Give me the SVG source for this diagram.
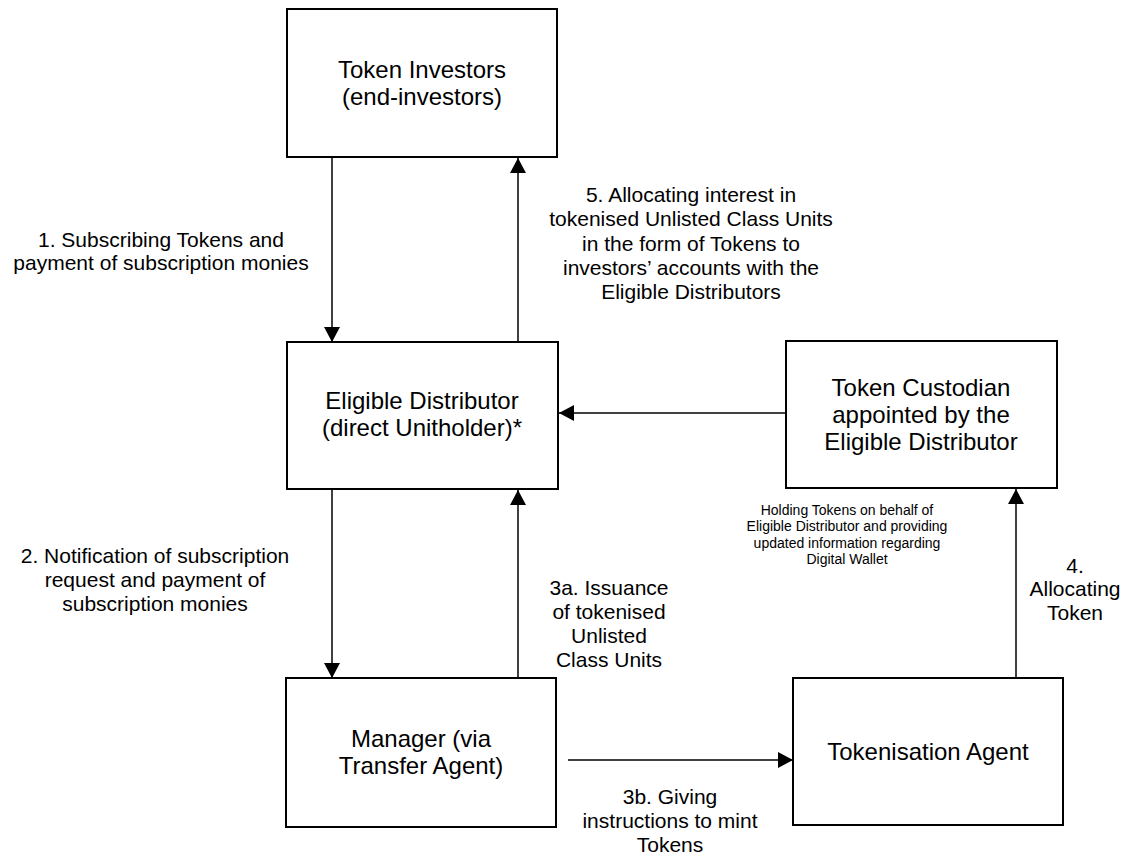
<svg xmlns="http://www.w3.org/2000/svg" width="1131" height="857" viewBox="0 0 1131 857">
  <style>
    .box { fill: #ffffff; stroke: #000000; stroke-width: 2; }
    .node-text { font-family: "Liberation Sans", Arial, sans-serif; font-size: 24px; fill: #000000; text-anchor: middle; }
    .label { font-family: "Liberation Sans", Arial, sans-serif; font-size: 21px; fill: #000000; text-anchor: middle; }
    .note { font-family: "Liberation Sans", Arial, sans-serif; font-size: 14px; fill: #000000; text-anchor: middle; }
    .edge { fill: none; stroke: #000000; stroke-width: 1.5; marker-end: url(#arrow); }
  </style>
  <defs>
    <marker id="arrow" markerUnits="userSpaceOnUse" markerWidth="16" markerHeight="16" refX="15" refY="8" orient="auto">
      <path d="M0,0 L15,8 L0,16 Z" fill="#000000"/>
    </marker>
  </defs>
  <rect width="1131" height="857" fill="#ffffff"/>

  <!-- Connectors -->
  <g id="connectors">
    <line class="edge" x1="332" y1="158" x2="332" y2="342"/>
    <line class="edge" x1="518" y1="342" x2="518" y2="158"/>
    <line class="edge" x1="786" y1="413" x2="559" y2="413"/>
    <line class="edge" x1="332" y1="489" x2="332" y2="678"/>
    <line class="edge" x1="518" y1="678" x2="518" y2="490"/>
    <line class="edge" x1="568" y1="760" x2="793" y2="760"/>
    <line class="edge" x1="1016" y1="678" x2="1016" y2="489"/>
  </g>

  <!-- Nodes -->
  <g id="token-investors">
    <rect class="box" x="287" y="9" width="270" height="148"/>
    <text class="node-text" x="422" y="78">Token Investors</text>
    <text class="node-text" x="422" y="105">(end-investors)</text>
  </g>
  <g id="eligible-distributor">
    <rect class="box" x="287" y="342" width="271" height="147"/>
    <text class="node-text" x="422" y="409">Eligible Distributor</text>
    <text class="node-text" x="422" y="436">(direct Unitholder)*</text>
  </g>
  <g id="token-custodian">
    <rect class="box" x="786" y="341" width="271" height="147"/>
    <text class="node-text" x="921" y="396">Token Custodian</text>
    <text class="node-text" x="921" y="423">appointed by the</text>
    <text class="node-text" x="921" y="450">Eligible Distributor</text>
  </g>
  <g id="manager">
    <rect class="box" x="286" y="678" width="270" height="149"/>
    <text class="node-text" x="421" y="747">Manager (via</text>
    <text class="node-text" x="421" y="774">Transfer Agent)</text>
  </g>
  <g id="tokenisation-agent">
    <rect class="box" x="793" y="678" width="270" height="147"/>
    <text class="node-text" x="928" y="760">Tokenisation Agent</text>
  </g>

  <!-- Connector labels -->
  <g id="labels">
    <text class="label" x="161" y="247">1. Subscribing Tokens and</text>
    <text class="label" x="161" y="270">payment of subscription monies</text>

    <text class="label" x="691" y="202">5. Allocating interest in</text>
    <text class="label" x="691" y="226">tokenised Unlisted Class Units</text>
    <text class="label" x="691" y="251">in the form of Tokens to</text>
    <text class="label" x="691" y="275">investors’ accounts with the</text>
    <text class="label" x="691" y="299">Eligible Distributors</text>

    <text class="label" x="155" y="563">2. Notification of subscription</text>
    <text class="label" x="155" y="587">request and payment of</text>
    <text class="label" x="155" y="611">subscription monies</text>

    <text class="label" x="609" y="595">3a. Issuance</text>
    <text class="label" x="609" y="619">of tokenised</text>
    <text class="label" x="609" y="643">Unlisted</text>
    <text class="label" x="609" y="667">Class Units</text>

    <text class="label" x="670" y="804">3b. Giving</text>
    <text class="label" x="670" y="828">instructions to mint</text>
    <text class="label" x="670" y="852">Tokens</text>

    <text class="label" x="1075" y="573">4.</text>
    <text class="label" x="1075" y="596">Allocating</text>
    <text class="label" x="1075" y="620">Token</text>

    <text class="note" x="847" y="515">Holding Tokens on behalf of</text>
    <text class="note" x="847" y="531">Eligible Distributor and providing</text>
    <text class="note" x="847" y="548">updated information regarding</text>
    <text class="note" x="847" y="564">Digital Wallet</text>
  </g>
</svg>
